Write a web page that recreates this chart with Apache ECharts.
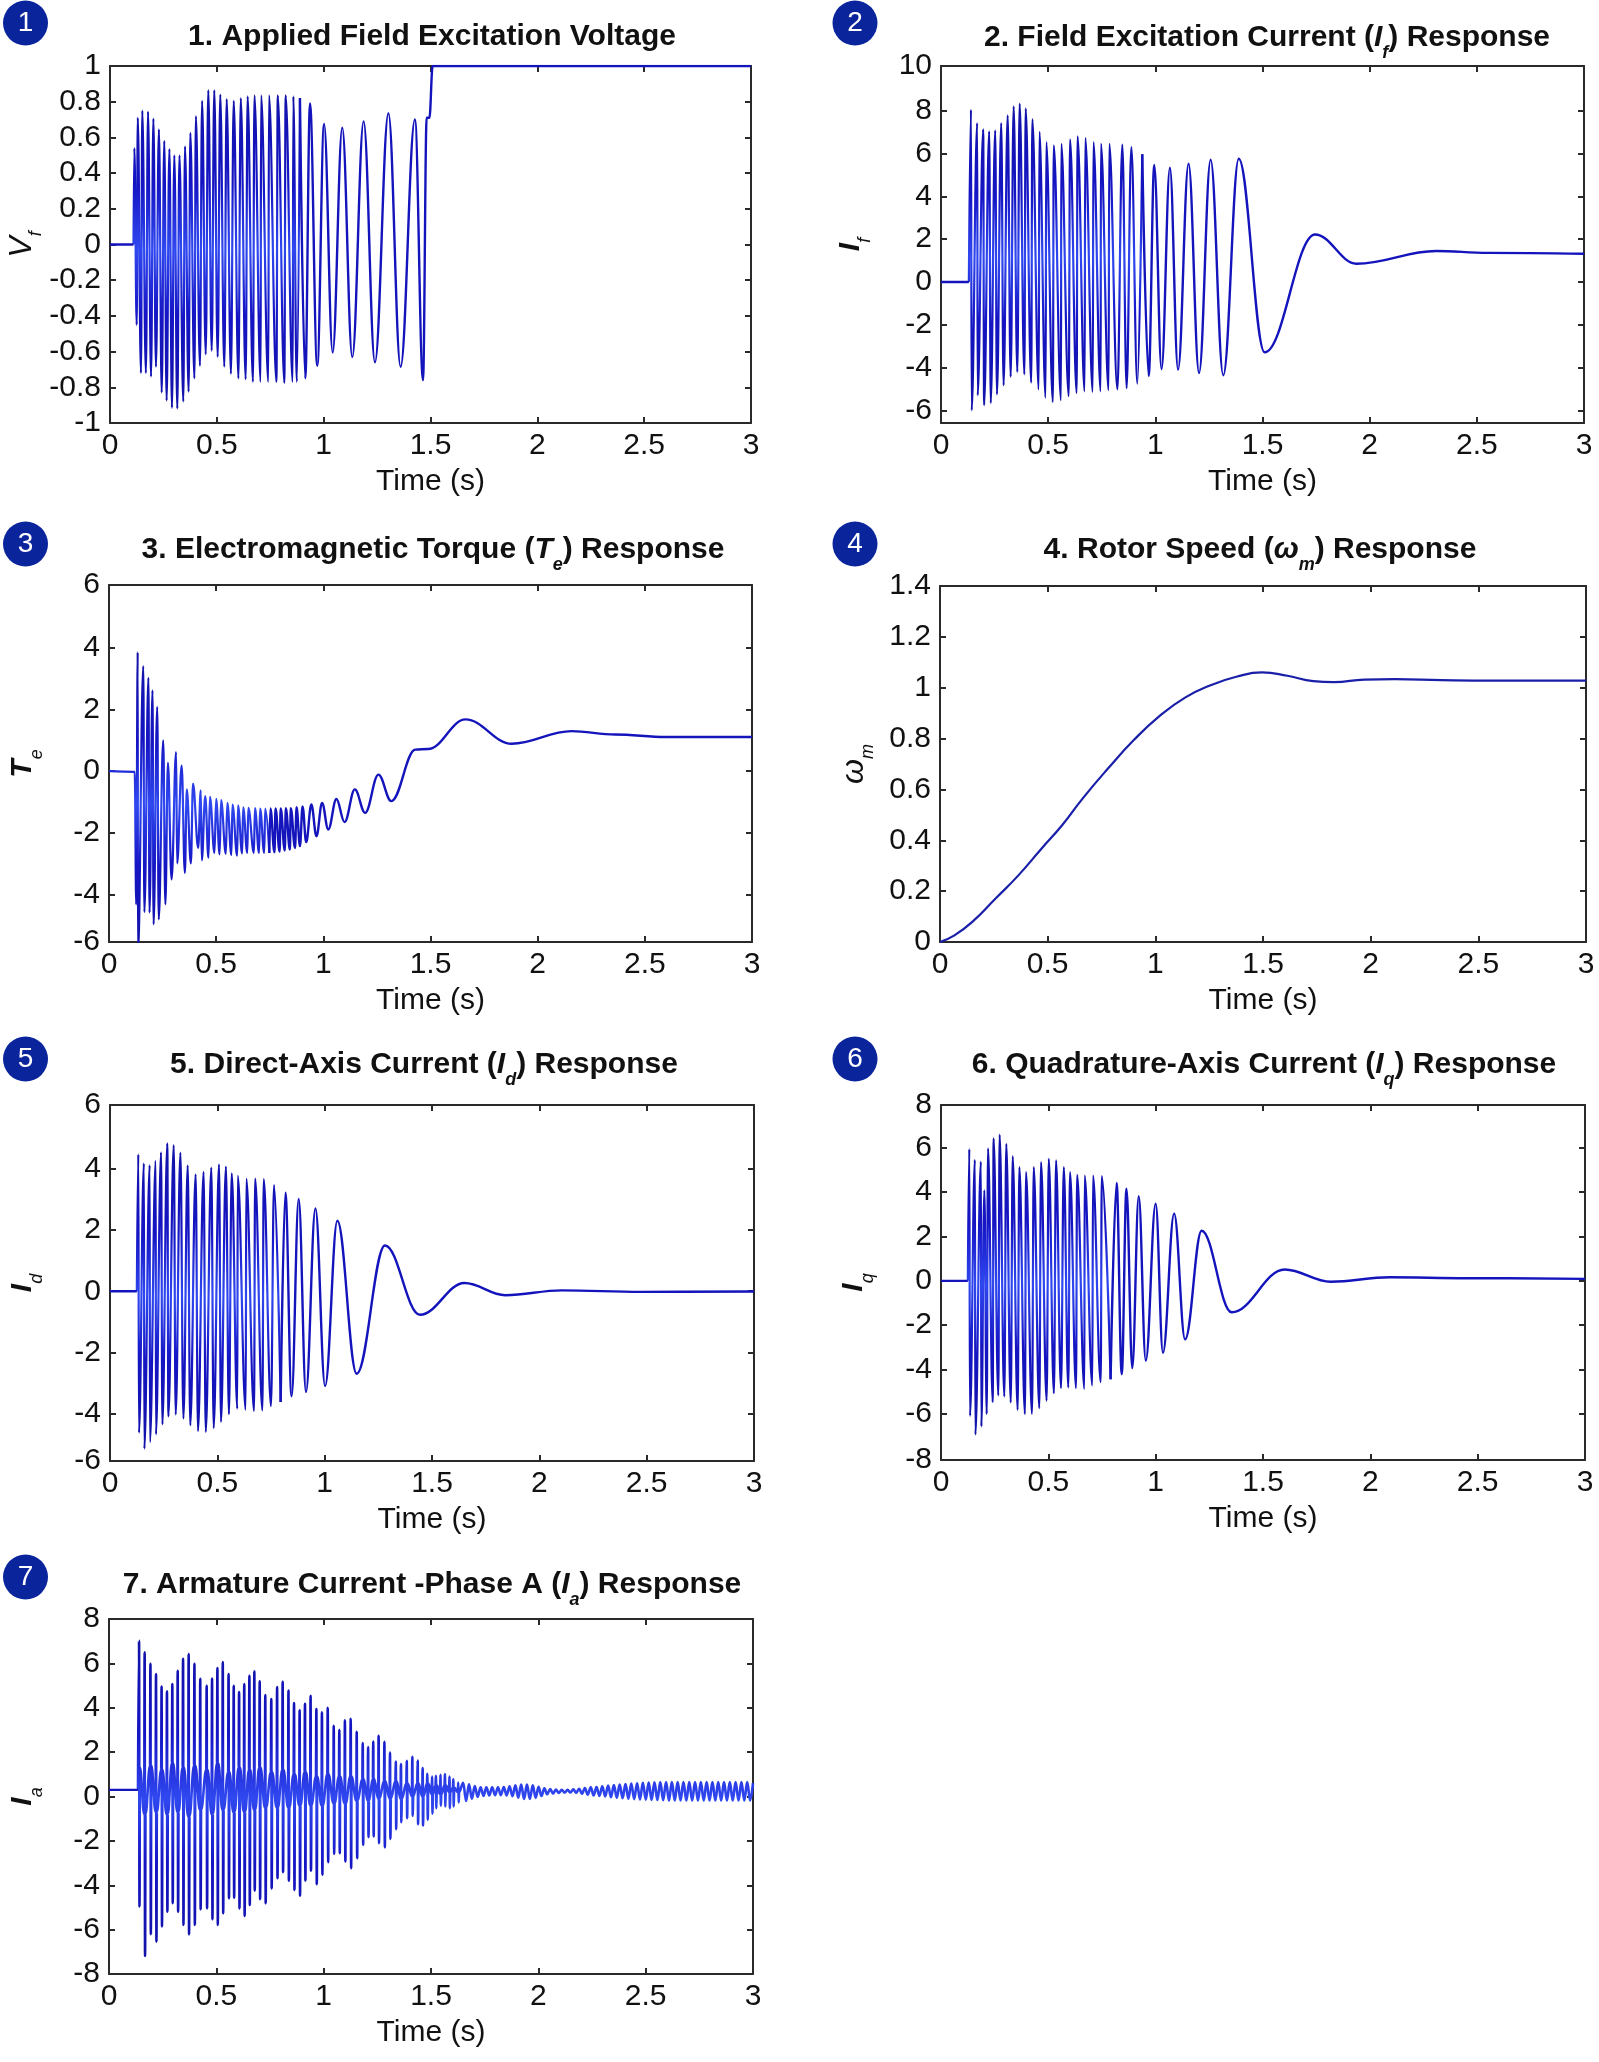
<!DOCTYPE html>
<html><head><meta charset="utf-8">
<style>html,body{margin:0;padding:0;background:#fff}#main{width:1599px;height:2062px}</style>
<script src="https://cdn.jsdelivr.net/npm/echarts@6/dist/echarts.min.js"></script>
</head><body><div id="main"></div>
<script>
// ---- data (extrema of each trace) ----
const vfTime = [0,0.11,0.114,0.125,0.130,0.145,0.151,0.168,0.178,0.192,0.203,0.215,0.229,0.242,0.254,0.265,0.278,0.290,0.301,0.315,0.325,0.343,0.351,0.368,0.376,0.395,0.402,0.421,0.431,0.448,0.460,0.476,0.488,0.504,0.516,0.535,0.546,0.566,0.579,0.601,0.612,0.635,0.644,0.669,0.676,0.705,0.707,0.741,0.744,0.779,0.785,0.816,0.822,0.855,0.858,0.874,0.889,0.914,0.936,0.970,1.002,1.042,1.087,1.134,1.187,1.240,1.303,1.360,1.427,1.465,1.482,1.495,1.51,3];
const vfValue = [0,0,0.54,-0.45,0.71,-0.72,0.75,-0.72,0.745,-0.74,0.705,-0.685,0.645,-0.83,0.58,-0.875,0.535,-0.915,0.50,-0.92,0.50,-0.88,0.55,-0.825,0.625,-0.75,0.72,-0.68,0.805,-0.615,0.865,-0.595,0.865,-0.63,0.84,-0.685,0.815,-0.725,0.805,-0.75,0.82,-0.755,0.83,-0.77,0.835,-0.77,0.835,-0.77,0.835,-0.77,0.835,-0.775,0.835,-0.77,0.83,-0.77,0.82,-0.75,0.79,-0.68,0.675,-0.605,0.655,-0.63,0.69,-0.66,0.735,-0.685,0.70,-0.76,0.71,0.71,1,1];

const ifTime = [0,0.13,0.140,0.143,0.169,0.171,0.197,0.201,0.225,0.232,0.253,0.261,0.281,0.292,0.311,0.325,0.339,0.356,0.367,0.389,0.395,0.421,0.426,0.456,0.459,0.488,0.491,0.522,0.526,0.560,0.561,0.596,0.602,0.633,0.637,0.670,0.673,0.708,0.711,0.745,0.746,0.782,0.785,0.823,0.846,0.866,0.888,0.916,0.939,0.969,0.995,1.029,1.068,1.106,1.155,1.204,1.258,1.317,1.389,1.510,1.745,1.938,2.31,2.55,3];
const ifValue = [0,0,8.04,-5.99,7.42,-5.29,7.12,-5.75,7.03,-5.65,7.08,-5.24,7.42,-4.82,7.78,-4.43,8.20,-4.20,8.32,-4.31,8.10,-4.70,7.60,-5.01,7.01,-5.40,6.53,-5.60,6.38,-5.52,6.45,-5.33,6.66,-5.18,6.80,-5.10,6.72,-5.13,6.53,-5.10,6.45,-5.05,6.45,-5.01,6.41,-4.95,6.30,-4.74,5.96,-4.39,5.46,-4.07,5.33,-4.09,5.52,-4.25,5.71,-4.35,5.75,-3.28,2.22,0.855,1.45,1.36,1.32];

const teTime = [0,0.12,0.127,0.134,0.135,0.160,0.165,0.184,0.189,0.203,0.208,0.225,0.232,0.253,0.263,0.275,0.292,0.313,0.318,0.339,0.354,0.363,0.382,0.392,0.416,0.428,0.433,0.449,0.464,0.471,0.492,0.500,0.516,0.523,0.545,0.552,0.571,0.576,0.598,0.602,0.621,0.626,0.645,0.650,0.676,0.681,0.700,0.705,0.724,0.729,0.748,0.753,0.772,0.777,0.796,0.801,0.820,0.825,0.844,0.848,0.868,0.875,0.891,0.903,0.920,0.944,0.968,0.994,1.023,1.061,1.099,1.147,1.195,1.257,1.317,1.429,1.489,1.663,1.879,2.158,2.361,2.60,3];
const teValue = [0,-0.02,-4.32,3.86,-6,3.41,-4.57,3.03,-4.59,2.62,-4.97,2.09,-4.81,1.0,-4.32,0.27,-3.51,0.62,-2.99,0.18,-3.30,-0.59,-2.99,-0.40,-2.49,-0.62,-2.89,-0.81,-2.81,-0.83,-2.65,-0.90,-2.70,-0.94,-2.68,-1.03,-2.72,-1.08,-2.74,-1.11,-2.67,-1.17,-2.65,-1.19,-2.65,-1.20,-2.65,-1.21,-2.65,-1.21,-2.65,-1.21,-2.63,-1.21,-2.61,-1.21,-2.57,-1.20,-2.54,-1.20,-2.49,-1.17,-2.43,-1.14,-2.30,-1.08,-2.11,-1.03,-1.89,-0.90,-1.65,-0.59,-1.35,-0.11,-0.97,0.70,0.72,1.68,0.89,1.30,1.19,1.11,1.11];

const wmTime = [0,0.067,0.15,0.257,0.364,0.471,0.567,0.662,0.781,0.9,1.019,1.138,1.257,1.376,1.495,1.614,1.733,1.829,1.971,2.114,2.329,2.567,3];
const wmValue = [0,0.026,0.079,0.17,0.262,0.367,0.459,0.564,0.683,0.794,0.888,0.961,1.010,1.043,1.06,1.047,1.026,1.022,1.032,1.034,1.03,1.028,1.028];

const idTime = [0,0.125,0.132,0.135,0.158,0.160,0.185,0.186,0.213,0.214,0.238,0.244,0.267,0.272,0.297,0.306,0.328,0.342,0.362,0.374,0.399,0.410,0.436,0.446,0.472,0.483,0.508,0.517,0.540,0.554,0.567,0.593,0.595,0.632,0.635,0.671,0.676,0.710,0.716,0.750,0.764,0.795,0.817,0.846,0.879,0.913,0.957,1.002,1.059,1.149,1.281,1.444,1.651,1.842,2.105,2.475,3];
const idValue = [0,0,4.49,-4.64,4.19,-5.16,4.13,-4.94,4.27,-4.69,4.55,-4.36,4.84,-4.10,4.79,-4.04,4.54,-4.17,4.12,-4.39,3.83,-4.58,3.91,-4.61,4.05,-4.48,4.16,-4.28,4.08,-4.03,3.86,-3.85,3.78,-3.88,3.68,-3.92,3.69,-3.90,3.67,-3.76,3.48,-3.63,3.23,-3.44,3.02,-3.30,2.71,-3.10,2.31,-2.70,1.50,-0.77,0.27,-0.13,0.03,-0.02,-0.01];

const iqTime = [0,0.125,0.132,0.135,0.158,0.160,0.186,0.188,0.202,0.213,0.219,0.241,0.245,0.267,0.273,0.295,0.304,0.325,0.334,0.357,0.365,0.391,0.396,0.424,0.432,0.458,0.466,0.492,0.502,0.526,0.536,0.559,0.572,0.593,0.601,0.629,0.634,0.668,0.669,0.705,0.708,0.744,0.749,0.790,0.818,0.842,0.864,0.891,0.921,0.954,1.0,1.034,1.086,1.137,1.214,1.354,1.601,1.816,2.09,2.45,3];
const iqValue = [0,0,5.95,-6.09,5.46,-6.94,5.38,-6.57,4.08,-6.01,5.98,-5.47,6.43,-5.17,6.60,-5.22,6.18,-5.49,5.62,-5.82,5.13,-6.01,4.90,-6.00,5.13,-5.74,5.35,-5.41,5.50,-5.07,5.43,-4.84,5.13,-4.81,4.90,-4.84,4.78,-4.87,4.75,-4.72,4.75,-4.57,4.72,-4.44,4.41,-4.21,4.15,-3.94,3.82,-3.60,3.48,-3.24,3.03,-2.64,2.26,-1.42,0.51,-0.04,0.16,0.12,0.09];

const iaTime = [0.140,0.166,0.193,0.219,0.245,0.270,0.295,0.320,0.345,0.371,0.398,0.425,0.455,0.480,0.505,0.530,0.557,0.581,0.606,0.630,0.654,0.677,0.702,0.728,0.756,0.783,0.809,0.836,0.862,0.888,0.913,0.939,0.966,0.992,1.019,1.047,1.073,1.099,1.126,1.154,1.182,1.207,1.231,1.256,1.283,1.309,1.336,1.360,1.387,1.413,1.438,1.461,1.483,1.505,1.523,1.544,1.565,1.586,1.604,1.627];
const iaTop = [7.02,6.50,5.98,5.52,4.96,4.74,5.07,5.67,6.21,6.42,5.98,5.31,4.99,5.32,5.79,6.06,5.52,4.99,4.71,5.07,5.44,5.64,5.19,4.57,4.39,4.93,5.17,4.78,4.21,3.88,4.18,4.54,3.94,3.80,4.0,3.19,3.01,3.43,3.50,2.92,2.41,2.23,2.48,2.74,2.47,1.98,1.58,1.46,1.61,1.79,1.62,1.28,1.02,0.90,0.93,0.98,1.01,0.90,0.78,0.63];
const iaBottom = [-4.96,-7.19,-6.21,-6.54,-5.86,-5.19,-4.81,-5.19,-5.79,-6.21,-5.79,-5.08,-5.04,-5.53,-5.79,-5.26,-4.59,-4.56,-5.04,-5.38,-4.89,-4.24,-4.63,-4.81,-4.14,-3.68,-3.41,-3.79,-4.21,-4.47,-3.79,-3.34,-3.95,-3.53,-2.96,-2.59,-2.56,-2.93,-3.23,-2.78,-2.18,-1.83,-1.80,-2.11,-2.29,-1.91,-1.47,-1.16,-0.98,-0.87,-1.25,-1.31,-1.05,-0.78,-0.53,-0.41,-0.45,-0.53,-0.45,-0.27];
const iaMid = [1.3,-0.8,1.4,-0.7,1.2,-0.8,1.5,-0.7,1.3,-0.9,1.4,-0.6,1.2,-0.8,1.5,-0.6,1.1,-0.7,1.3,-0.7,1.2,-0.6,1.3,-0.5,1.1,-0.5,1.2,-0.5,1.0,-0.4,1.1,-0.4,0.9,-0.4,1.0,-0.3,0.9,-0.3,0.9,-0.2,0.8,-0.2,0.8,-0.1,0.7,-0.1,0.7,-0.1,0.6,0,0.6,0,0.6,0.1,0.5,0.1,0.5,0.2,0.4,0.2];
const iaTailTime = [1.65,1.677,1.704,1.731,1.758,1.785,1.812,1.839,1.866,1.893,1.92,1.947,1.974,2.001,2.028,2.055,2.082,2.109,2.136,2.163,2.19,2.217,2.244,2.271,2.298,2.325,2.352,2.379,2.406,2.433,2.46,2.487,2.514,2.541,2.568,2.595,2.622,2.649,2.676,2.703,2.73,2.757,2.784,2.811,2.838,2.865,2.892,2.919,2.946,2.973];
const iaTailTop = [0.62,0.55,0.47,0.42,0.41,0.41,0.42,0.43,0.46,0.50,0.54,0.54,0.50,0.44,0.37,0.34,0.31,0.30,0.30,0.32,0.35,0.38,0.41,0.43,0.46,0.49,0.52,0.54,0.56,0.58,0.60,0.62,0.63,0.64,0.65,0.65,0.65,0.65,0.65,0.65,0.65,0.65,0.65,0.65,0.65,0.65,0.65,0.65,0.65,0.65];
const iaTailBottom = [-0.20,-0.10,-0.02,0.03,0.05,0.06,0.06,0.05,0.01,-0.05,-0.11,-0.11,-0.06,0.02,0.10,0.13,0.16,0.18,0.18,0.16,0.12,0.08,0.05,0.03,0,-0.03,-0.06,-0.08,-0.10,-0.12,-0.13,-0.14,-0.15,-0.16,-0.17,-0.18,-0.18,-0.18,-0.18,-0.18,-0.18,-0.18,-0.18,-0.18,-0.18,-0.18,-0.18,-0.18,-0.18,-0.18];

const zip = (a, b) => a.map((t, i) => [t, b[i]]);
function iaSeries() {
  const pts = [[0, 0.3], [0.135, 0.3]];
  iaTime.forEach((t, i) => {
    pts.push([t, iaTop[i]], [t + 0.002, iaBottom[i]], [t + 0.004, iaMid[i]]);
    if (i + 1 < iaTime.length) pts.push([iaTime[i + 1] - 0.002, iaMid[i + 1]]);
  });
  iaTailTime.forEach((t, i) => {
    pts.push([t, iaTailTop[i]], [t + 0.0135, iaTailBottom[i]]);
  });
  pts.push([3, 0.6]);
  return pts;
}

const plots = [
 {no:'1', head:'{b|1. Applied Field Excitation Voltage}', sym:'{o|V}{s|f}', data:zip(vfTime,vfValue), split:0.9,
  box:[110,66,641,357], gap:69, min:-1, max:1, ticks:[-1,-0.8,-0.6,-0.4,-0.2,0,0.2,0.4,0.6,0.8,1], labels:['-1','-0.8','-0.6','-0.4','-0.2','0','0.2','0.4','0.6','0.8','1'],
  badge:[25.5,23], titlePos:[432,34]},
 {no:'2', head:'{b|2. Field Excitation Current (}{i|I}{s|f}{b|) Response}', sym:'{i|I}{s|f}', data:zip(ifTime,ifValue), split:0.95,
  box:[941,66,643,357], gap:72, min:-6.58, max:10.08, ticks:[-6,-4,-2,0,2,4,6,8,10.08], labels:['-6','-4','-2','0','2','4','6','8','10'],
  badge:[855,23], titlePos:[1267,35]},
 {no:'3', head:'{b|3. Electromagnetic Torque (}{i|T}{s|e}{b|) Response}', sym:'{i|T}{s|e}', data:zip(teTime,teValue), split:0.75,
  box:[109,585,643,357], gap:68, min:-5.54, max:6.04, ticks:[-5.54,-4,-2,0,2,4,6.04], labels:['-6','-4','-2','0','2','4','6'],
  badge:[25.5,544], titlePos:[433,547]},
 {no:'4', head:'{b|4. Rotor Speed (}{i|ω}{s|m}{b|) Response}', sym:'{o|ω}{t|m}', data:zip(wmTime,wmValue), thin:true,
  box:[940,586,646,356], gap:68, min:0, max:1.4, ticks:[0,0.2,0.4,0.6,0.8,1,1.2,1.4], labels:['0','0.2','0.4','0.6','0.8','1','1.2','1.4'],
  badge:[855,544], titlePos:[1260,547]},
 {no:'5', head:'{b|5. Direct-Axis Current (}{i|I}{s|d}{b|) Response}', sym:'{i|I}{s|d}', data:zip(idTime,idValue), split:0.8,
  box:[110,1105,644,356], gap:69, min:-5.56, max:6.1, ticks:[-5.56,-4,-2,0,2,4,6.1], labels:['-6','-4','-2','0','2','4','6'],
  badge:[25.5,1059], titlePos:[424,1062]},
 {no:'6', head:'{b|6. Quadrature-Axis Current (}{i|I}{s|q}{b|) Response}', sym:'{i|I}{s|q}', data:zip(iqTime,iqValue), split:0.8,
  box:[941,1105,644,355], gap:69, min:-8.08, max:7.93, ticks:[-8.08,-6,-4,-2,0,2,4,6,7.93], labels:['-8','-6','-4','-2','0','2','4','6','8'],
  badge:[855,1059], titlePos:[1264,1062]},
 {no:'7', head:'{b|7. Armature Current -Phase A (}{i|I}{s|a}{b|) Response}', sym:'{i|I}{s|a}', data:iaSeries(), dense:true, split:4,
  box:[109,1619,644,355], gap:68, min:-8, max:8, ticks:[-8,-6,-4,-2,0,2,4,6,8], labels:['-8','-6','-4','-2','0','2','4','6','8'],
  badge:[25.5,1577], titlePos:[432,1582]}
];

const FONT = '"Liberation Sans", Arial, sans-serif';
const INK = '#111', AXIS = '#2a2a2a', BLUE = '#1414bc';
const fade = () => new echarts.graphic.LinearGradient(0, 0, 0, 1, [
  {offset:0, color:'#1212a8'}, {offset:0.3, color:'#1515c4'}, {offset:0.5, color:'#3048f0'}, {offset:0.7, color:'#1515c4'}, {offset:1, color:'#1212a8'}
]);
const titleRich = {
  b:{fontFamily:FONT,fontWeight:'bold',fontSize:30,color:INK,lineHeight:36},
  i:{fontFamily:FONT,fontWeight:'bold',fontStyle:'italic',fontSize:30,color:INK,lineHeight:36},
  s:{fontFamily:FONT,fontWeight:'bold',fontStyle:'italic',fontSize:18,color:INK,lineHeight:30,verticalAlign:'bottom',padding:[0,0,-7,0]}
};
const nameRich = {
  i:{fontFamily:FONT,fontWeight:'bold',fontStyle:'italic',fontSize:30,color:INK,lineHeight:36},
  s:{fontFamily:FONT,fontStyle:'italic',fontSize:18,color:INK,lineHeight:30,verticalAlign:'bottom',padding:[0,0,-5,0]},
  o:{fontFamily:FONT,fontStyle:'italic',fontSize:32,color:INK,lineHeight:36},
  t:{fontFamily:FONT,fontStyle:'italic',fontSize:18,color:INK,lineHeight:30,verticalAlign:'bottom',padding:[0,0,-5,0]}
};

const option = {animation:false, backgroundColor:'#fff', grid:[], xAxis:[], yAxis:[], series:[], title:[], graphic:[]};
plots.forEach((p, n) => {
  option.grid.push({left:p.box[0], top:p.box[1], width:p.box[2], height:p.box[3], containLabel:false, outerBoundsMode:'none', show:false});
  const line = {show:true, onZero:false, lineStyle:{color:AXIS, width:2}};
  const tick = {show:true, inside:true, length:6, lineStyle:{color:AXIS, width:2}};
  option.xAxis.push(
    {type:'value', gridIndex:n, min:0, max:3, interval:0.5, position:'bottom', axisLine:line, axisTick:tick, splitLine:{show:false},
     axisLabel:{color:INK, fontFamily:FONT, fontSize:30, margin:8, showMinLabel:true, showMaxLabel:true},
     name:'Time (s)', nameLocation:'middle', nameGap:44, nameTextStyle:{color:INK, fontFamily:FONT, fontSize:30}},
    {type:'value', gridIndex:n, min:0, max:3, interval:0.5, position:'top', axisLine:line, axisTick:tick, axisLabel:{show:false}, splitLine:{show:false}}
  );
  const fmt = v => {
    let best = 0;
    p.ticks.forEach((t, i) => { if (Math.abs(t - v) < Math.abs(p.ticks[best] - v)) best = i; });
    return p.labels[best];
  };
  option.yAxis.push(
    {type:'value', gridIndex:n, min:p.min, max:p.max, position:'left', axisLine:line,
     axisTick:Object.assign({customValues:p.ticks}, tick), splitLine:{show:false},
     axisLabel:{customValues:p.ticks, formatter:fmt, color:INK, fontFamily:FONT, fontSize:30, margin:9},
     name:p.sym, nameLocation:'middle', nameGap:p.gap, nameRotate:90, nameTextStyle:{rich:nameRich}},
    {type:'value', gridIndex:n, min:p.min, max:p.max, position:'right', axisLine:line,
     axisTick:Object.assign({customValues:p.ticks}, tick), axisLabel:{show:false}, splitLine:{show:false}}
  );
  const base = {type:'line', xAxisIndex:n*2, yAxisIndex:n*2, showSymbol:false, symbol:'none', clip:true, silent:true};
  if (p.thin) {
    option.series.push(Object.assign({}, base, {data:p.data, smooth:0.5, lineStyle:{color:'#1a1fa8', width:2.2}}));
  } else {
    const head = p.data.filter(d => d[0] <= p.split);
    const rest = p.data.filter(d => d[0] >= head[head.length - 1][0]);
    const flat = head.filter(d => d[1] === head[0][1] && d[0] < 0.14);
    option.series.push(Object.assign({}, base, {data:head.slice(flat.length - 1), smooth:0.38, smoothMonotone:'x',
      lineStyle:{color:fade(), width:p.dense ? 2.6 : 2.2, join:'round'}}));
    option.series.push(Object.assign({}, base, {data:flat, lineStyle:{color:BLUE, width:2.4}}));
    if (rest.length > 1) option.series.push(Object.assign({}, base, {data:rest, smooth:0.38, smoothMonotone:'x',
      lineStyle:{color:BLUE, width:2.4, join:'round'}}));
  }
  option.title.push({text:p.head, left:p.titlePos[0], top:p.titlePos[1]-15.5, padding:0, textAlign:'center', textStyle:{rich:titleRich}});
  option.graphic.push(
    {type:'circle', shape:{cx:p.badge[0], cy:p.badge[1], r:22.5}, style:{fill:'#0a249c'}, silent:true},
    {type:'text', x:p.badge[0], y:p.badge[1], style:{text:p.no, fill:'#fff', font:'28px '+FONT, textAlign:'center', textVerticalAlign:'middle'}, silent:true}
  );
});
const chart = echarts.init(document.getElementById('main'), null, {renderer:'canvas', width:1599, height:2062});
chart.setOption(option);
</script></body></html>
